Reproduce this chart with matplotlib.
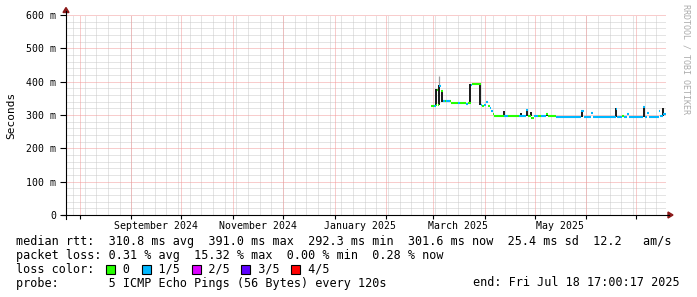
import numpy as np
import pandas as pd
import matplotlib
matplotlib.use('Agg')
import matplotlib.pyplot as plt
import matplotlib.dates as mdates
from matplotlib.collections import LineCollection
from matplotlib.lines import Line2D
from matplotlib.patches import Rectangle, Polygon

# ---- data -----------------------------------------------------------------
end = pd.Timestamp('2025-07-18 17:00:17')
start = end - pd.Timedelta(days=360)

# median rtt, each value holds until the next date
med_dates = ['2025-02-27 12:00', '2025-03-01 12:00', '2025-03-02 12:00', '2025-03-03 06:00',
             '2025-03-04 00:00', '2025-03-04 12:00', '2025-03-06 00:00', '2025-03-06 18:00',
             '2025-03-08 00:00', '2025-03-09 00:00', '2025-03-11 00:00', '2025-03-12 00:00',
             '2025-03-16 00:00', '2025-03-17 00:00', '2025-03-21 00:00', '2025-03-22 00:00',
             '2025-03-23 12:00', '2025-03-24 12:00', '2025-03-29 12:00', '2025-03-30 12:00',
             '2025-03-31 12:00', '2025-04-02 00:00', '2025-04-03 00:00', '2025-04-04 00:00',
             '2025-04-05 00:00', '2025-04-05 18:00', '2025-04-06 12:00', '2025-04-12 18:00',
             '2025-04-14 18:00', '2025-04-21 18:00', '2025-04-25 12:00', '2025-04-26 18:00',
             '2025-04-28 18:00', '2025-04-30 18:00', '2025-05-03 00:00', '2025-05-05 00:00',
             '2025-05-08 00:00', '2025-05-09 00:00', '2025-05-13 18:00', '2025-05-29 00:00',
             '2025-05-30 12:00', '2025-06-03 18:00', '2025-06-04 18:00', '2025-06-18 12:00',
             '2025-06-19 12:00', '2025-06-22 12:00', '2025-06-23 12:00', '2025-06-25 12:00',
             '2025-06-26 12:00', '2025-07-05 00:00', '2025-07-06 00:00', '2025-07-07 12:00',
             '2025-07-08 06:00', '2025-07-14 06:00', '2025-07-15 06:00', '2025-07-16 18:00']
med_ms = [328, 327, 329, 376, 331, 388, 373, 342, 341, 343, 341, 335,
          335, 335, 334, 335, 391, 392, 331, 328, 330, 338, 327, 321,
          312, 304, 298, 297, 296, 298, 314, 297, 291, 296, 297, 296,
          304, 297, 295, 313, 295, 306, 295, 318, 295, 296, 295, 304,
          295, 324, 295, 306, 295, 311, 296, 301.6]
med_loss = [0, 1, 0, 0, 0, 1, 0, 1, 0, 1, 0, 0,
            1, 0, 1, 0, 1, 0, 1, 0, 1, 1, 0, 1,
            1, 0, 0, 1, 0, 1, 1, 0, 0, 1, 0, 1,
            0, 0, 1, 1, 1, 1, 1, 1, 1, 0, 1, 1,
            1, 1, 1, 1, 1, 1, 1, 1]
med_last = '2025-07-18 12:00'

# smoke (spread of the pings)
smoke_dates = ['2025-03-03 00:00', '2025-03-04 06:00', '2025-03-06 12:00', '2025-03-23 06:00',
               '2025-03-29 06:00', '2025-04-12 12:00', '2025-04-22 12:00', '2025-04-26 06:00',
               '2025-04-28 12:00', '2025-05-08 12:00', '2025-05-29 12:00', '2025-06-18 18:00',
               '2025-07-05 12:00', '2025-07-17 00:00']
smoke_lo = [328, 330, 340, 335, 330, 297, 297, 297, 296, 297, 295, 295, 295, 296]
smoke_hi = [377, 390, 374, 392, 390, 311, 306, 315, 310, 306, 316, 322, 327, 320]
peak_date = '2025-03-04 06:00'
peak_lo, peak_hi = 388, 417

loss_colors = ['#26ff00', '#00b8ff', '#dd00ff', '#5e00ff', '#ff0000']
loss_labels = ['0', '1/5', '2/5', '3/5', '4/5']

rtt_stats = [310.8, 391.0, 292.3, 301.6]   # avg max min now
rtt_sd = 25.4
rtt_ams = 12.2
loss_stats = [0.31, 15.32, 0.00, 0.28]

month_labels = ['2024-09-01', '2024-11-01', '2025-01-01', '2025-03-01', '2025-05-01']

# ---- figure ---------------------------------------------------------------
W, H = 697, 297
mono = 'DejaVu Sans Mono'
fig = plt.figure(figsize=(W / 100, H / 100), dpi=100)
fig.patch.set_facecolor('white')
ax = fig.add_axes([66 / W, (H - 215) / H, 600 / W, 200 / H])
ax.set_xlim(mdates.date2num(start), mdates.date2num(end))
ax.set_ylim(0, 0.6)
for s in ax.spines.values():
    s.set_visible(False)

dot = (0, (1, 1))
minor_col = '#cacaca'
major_col = '#f29a9a'
g = dict(lw=0.72, ls=dot)

# grid
for v in np.arange(0.02, 0.6, 0.02):
    if abs(v * 10 - round(v * 10)) > 1e-6:
        ax.axhline(v, color=minor_col, zorder=0, **g)
weeks = pd.date_range('2024-07-28', end, freq='7D')
for d in weeks:
    ax.axvline(mdates.date2num(d), color=minor_col, zorder=0, **g)
months = pd.date_range('2024-08-01', end, freq='MS')
for d in months:
    ax.axvline(mdates.date2num(d), color=major_col, zorder=0.5, **g)
for v in np.arange(0.1, 0.61, 0.1):
    ax.axhline(v, color=major_col, zorder=0.5, **g)

# smoke
sx = mdates.date2num(pd.to_datetime(smoke_dates))
ax.vlines(sx, np.array(smoke_lo) / 1000, np.array(smoke_hi) / 1000,
          color='#1e1e1e', lw=1.44, zorder=2)
px = mdates.date2num(pd.Timestamp(peak_date))
ax.vlines(px, peak_lo / 1000, peak_hi / 1000, color='#9a9a9a', lw=0.9, zorder=1.9)

# median line coloured by loss
mx = mdates.date2num(pd.to_datetime(med_dates + [med_last]))
segs = [[(mx[i], med_ms[i] / 1000), (mx[i + 1], med_ms[i] / 1000)] for i in range(len(med_ms))]
cols = [loss_colors[l] for l in med_loss]
ax.add_collection(LineCollection(segs, colors=cols, linewidths=1.5, capstyle='butt', zorder=3))

# ticks
ax.set_yticks(np.arange(0, 0.61, 0.1))
ax.set_yticklabels(['0'] + ['%d m' % v for v in range(100, 601, 100)])
ax.tick_params(axis='y', length=4, width=0.8, pad=3, labelsize=7.1, color='#000000')
ax.set_xticks(mdates.date2num(months))
ax.set_xticklabels([])
ax.tick_params(axis='x', which='major', length=3, width=0.8, color='#000000')
lab = pd.to_datetime(month_labels)
ax.set_xticks(mdates.date2num(lab + pd.Timedelta(days=15)), minor=True)
ax.set_xticklabels([d.strftime('%B %Y') for d in lab], minor=True)
ax.tick_params(axis='x', which='minor', length=0, pad=4, labelsize=7.1)
for t in ax.get_xticklabels(which='both') + ax.get_yticklabels():
    t.set_family(mono)


def fx(x):
    return x / W


def fy(y):
    return 1 - y / H


# axes lines and arrows
fig.add_artist(Line2D([fx(62), fx(669)], [fy(215), fy(215)], color='black', lw=0.8))
fig.add_artist(Line2D([fx(66), fx(66)], [fy(219), fy(11)], color='black', lw=0.8))
fig.add_artist(Polygon([(fx(63), fy(12.5)), (fx(69), fy(12.5)), (fx(66), fy(7.5))],
                       closed=True, color='#8b1a1a'))
fig.add_artist(Polygon([(fx(668), fy(212)), (fx(668), fy(218)), (fx(673), fy(215))],
                       closed=True, color='#8b1a1a'))

fig.text(fx(11), fy(115), 'Seconds', rotation=90, ha='center', va='center',
         family=mono, fontsize=8)
fig.text(fx(686), fy(4), 'RRDTOOL / TOBI OETIKER', rotation=270, ha='center', va='top',
         family=mono, fontsize=6, color='#ababab')

# legend
cw = 7.1
x0 = 15.5
fs = 8.5
rows = [241, 255, 269, 283]
line1 = ('median rtt:  %.1f ms avg  %.1f ms max  %.1f ms min  %.1f ms now  %.1f ms sd  %.1f   am/s'
         % (rtt_stats[0], rtt_stats[1], rtt_stats[2], rtt_stats[3], rtt_sd, rtt_ams))
line2 = ('packet loss: %.2f %% avg  %.2f %% max  %.2f %% min  %.2f %% now'
         % tuple(loss_stats))
line3 = 'loss color:' + ''.join('    ' + l for l in loss_labels)
fig.text(fx(x0), fy(rows[0]), line1, family=mono, fontsize=fs, va='center')
fig.text(fx(x0), fy(rows[1]), line2, family=mono, fontsize=fs, va='center')
fig.text(fx(x0), fy(rows[2]), line3, family=mono, fontsize=fs, va='center')
pos = 11
for l, c in zip(loss_labels, loss_colors):
    pos += 4
    left = x0 + (pos - 2.2) * cw
    fig.add_artist(Rectangle((fx(left), fy(rows[2] + 4.5)), 9 / W, 9 / H,
                             facecolor=c, edgecolor='black', lw=0.8))
    pos += len(l)
fig.text(fx(x0), fy(rows[3]), 'probe:       5 ICMP Echo Pings (56 Bytes) every 120s',
         family=mono, fontsize=fs, va='center')
fig.text(fx(680), fy(rows[3]), 'end: ' + end.strftime('%a %b %d %H:%M:%S %Y'),
         family=mono, fontsize=fs, va='center', ha='right')

fig.savefig('out.png', dpi=100, facecolor='white')
